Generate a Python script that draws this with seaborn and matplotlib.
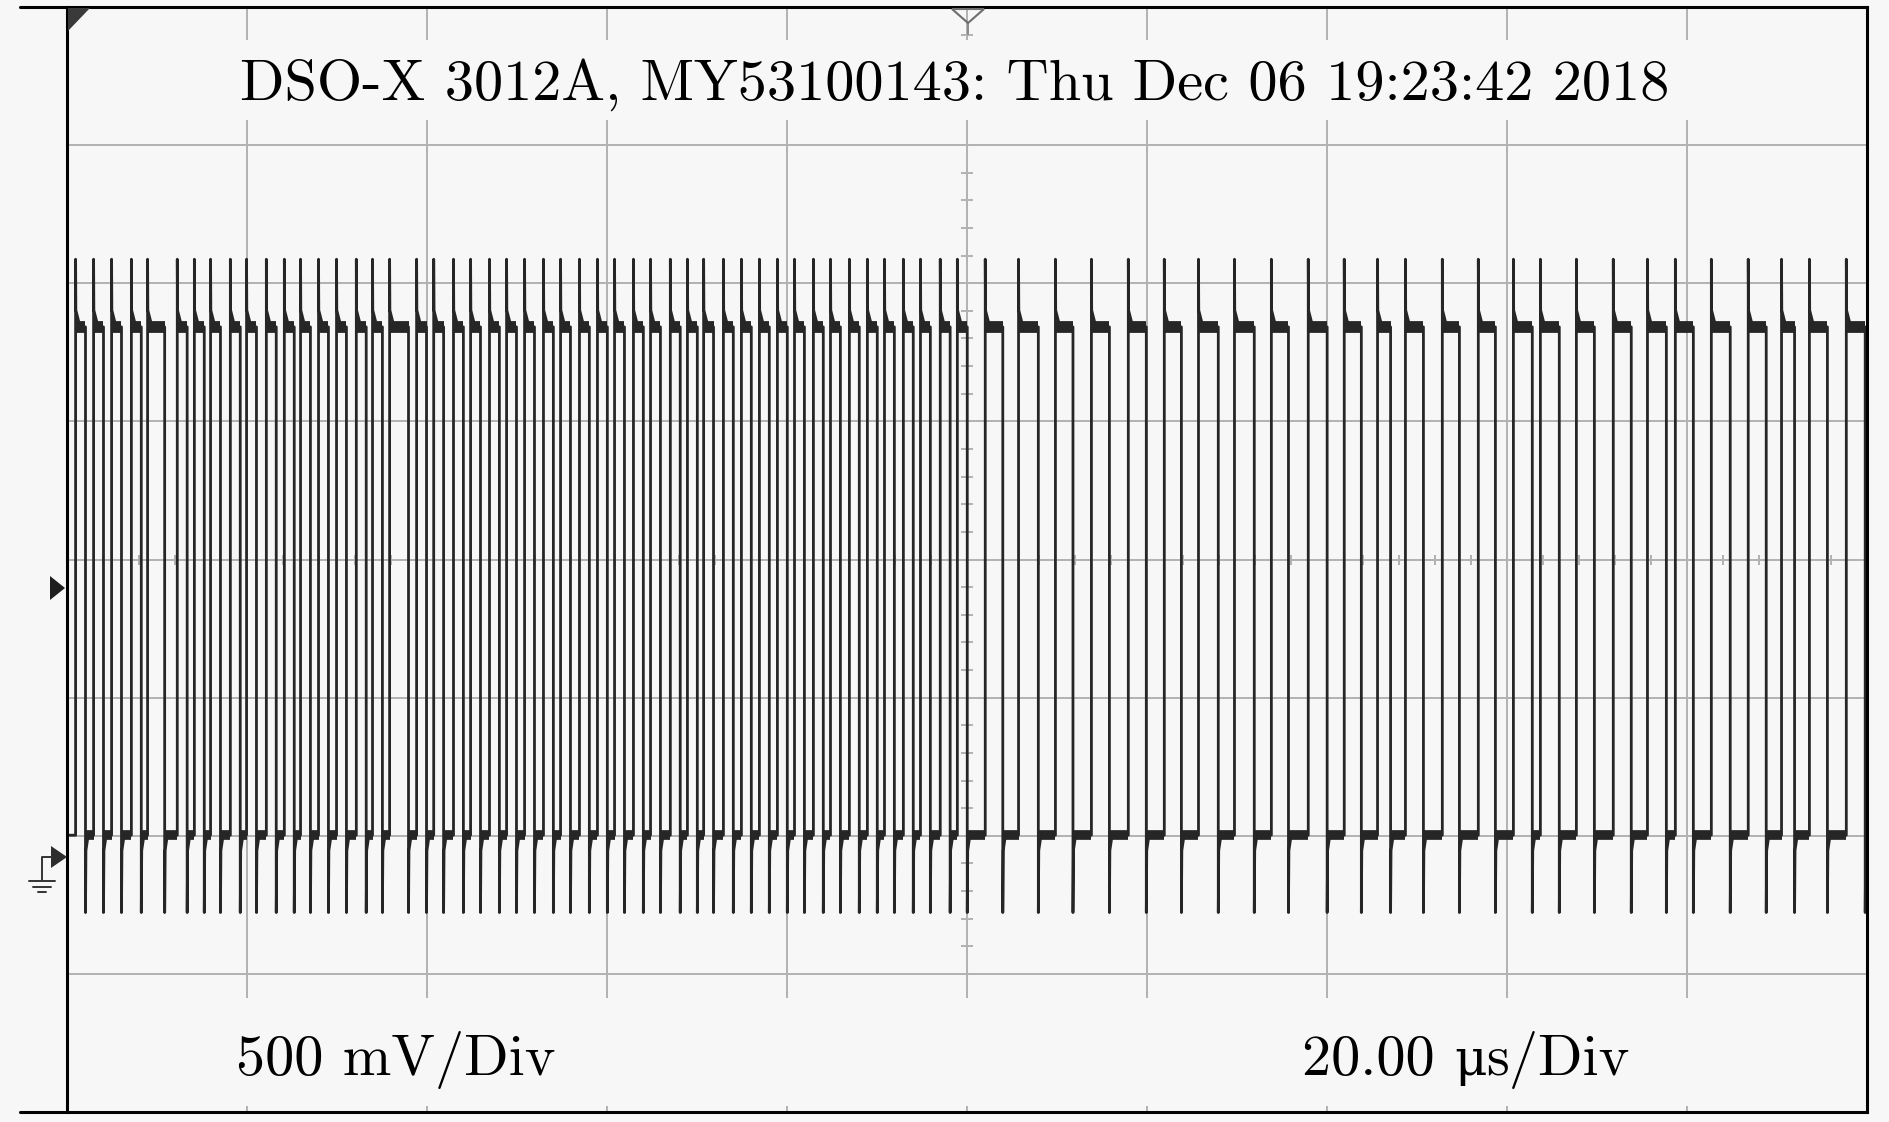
import numpy as np
import pandas as pd
import matplotlib
matplotlib.use("Agg")
import matplotlib.pyplot as plt
import seaborn as sns
from matplotlib.patches import Rectangle, Polygon
from matplotlib.lines import Line2D

# screen annotations
title = "DSO-X 3012A, MY53100143: Thu Dec 06 19:23:42 2018"
volt_label = "500 mV/Div"
time_value = "20.00 "
time_unit = "\u03bc"
time_rest = "s/Div"

# scope settings
volts_per_div = 0.5
us_per_div = 20.0
offset_v = 1.078      # voltage at screen centre

# trace levels (V)
v_high = 1.92
v_low = 0.08
v_over = 2.165
v_under = -0.20
v_shoulder = 1.98
v_tail = 0.025

# rising edges (us)
rise_us = [-99.1, -97.1, -95.1, -92.9, -91.1, -87.8, -85.9, -84.1, -81.9, -80.1,
           -77.9, -75.9, -74.1, -72.1, -70.1, -67.9, -66.1, -64.2, -61.2, -59.3,
           -57.1, -55.2, -53.1, -51.2, -49.2, -47.1, -45.2, -43.1, -41.1, -39.2,
           -37.1, -35.2, -33.0, -31.1, -29.3, -27.1, -25.1, -23.1, -21.1, -19.2,
           -17.1, -15.2, -13.1, -11.1, -9.2, -7.1, -5.2, -3.0, -1.1,
           2.0, 5.7, 9.8, 13.8, 17.9, 21.9, 25.7, 29.7, 33.8, 37.9,
           41.9, 45.6, 48.7, 52.8, 56.8, 60.7, 63.7, 67.7, 71.8, 75.6,
           78.7, 82.7, 86.8, 90.5, 93.6, 97.7]

# time spent high after each rising edge (us)
high_us = [1.1, 1.1, 1.1, 1.1, 1.9, 1.1, 1.1, 1.1, 1.1, 1.1,
           1.1, 1.1, 1.1, 1.1, 1.1, 1.1, 1.1, 2.1, 1.1, 1.1,
           1.1, 1.1, 1.1, 1.1, 1.1, 1.1, 1.1, 1.1, 1.1, 1.1,
           1.1, 1.1, 1.1, 1.1, 1.1, 1.1, 1.1, 1.1, 1.1, 1.1,
           1.1, 1.1, 1.1, 1.1, 1.1, 1.1, 1.1, 1.1, 1.1,
           1.95, 2.2, 1.95, 2.0, 2.0, 1.9, 2.2, 2.2, 1.9, 2.1,
           1.9, 1.45, 2.0, 1.9, 1.9, 2.1, 2.1, 2.0, 2.0, 2.1,
           2.0, 2.1, 2.0, 1.45, 2.0, 2.1]

bg = "#f7f7f7"
ink = "#262626"
grid_col = "#b2b2b2"

t0, t1 = -5 * us_per_div, 5 * us_per_div
y0, y1 = offset_v - 4 * volts_per_div, offset_v + 4 * volts_per_div

# build the trace table
rise = np.array(rise_us)
fall = rise + np.array(high_us)
rows = [(t0, v_low)]
for r, f in zip(rise, fall):
    rows += [(r, v_low), (r, v_over), (r + 0.03, v_shoulder), (r + 0.5, v_high),
             (f, v_high), (f, v_under), (f + 0.05, v_tail), (f + 0.3, v_low)]
rows.append((t1, v_low))
trace = pd.DataFrame(rows, columns=["t_us", "volts"])
trace = trace[trace["t_us"] <= t1]

next_rise = np.append(rise[1:], t1)

sns.set_style("white")
plt.rcParams["font.family"] = ["cmr10", "DejaVu Serif"]
plt.rcParams["axes.unicode_minus"] = False

W, H = 1890, 1122
fig = plt.figure(figsize=(W / 100, H / 100), dpi=100, facecolor=bg)
ax_l, ax_r, ax_t, ax_b = 67.5, 1867, 7, 1112
ax = fig.add_axes([ax_l / W, 1 - ax_b / H, (ax_r - ax_l) / W, (ax_b - ax_t) / H])
ax.set_facecolor(bg)
ax.set_xlim(t0, t1)
ax.set_ylim(y0, y1)

# graticule
xg = np.arange(t0 + us_per_div, t1, us_per_div)
yg = np.arange(y0 + volts_per_div, y1 - 1e-6, volts_per_div)
ax.vlines(xg, y0, y1, color=grid_col, lw=1.4, zorder=1)
ax.hlines(yg, t0, t1, color=grid_col, lw=1.4, zorder=1)
ax.plot(np.zeros(41), np.linspace(y0, y1, 41), ls="none", marker="_",
        ms=8, mew=1.4, color=grid_col, zorder=1)
ax.plot(np.linspace(t0, t1, 51), np.full(51, offset_v), ls="none", marker="|",
        ms=7, mew=1.4, color=grid_col, zorder=1)

# text bands hide the graticule
for yb0, yb1 in [(40, 120), (998, 1106)]:
    ax.add_patch(Rectangle((0, 1 - (yb1 - ax_t) / (ax_b - ax_t)), 1,
                           (yb1 - yb0) / (ax_b - ax_t), transform=ax.transAxes,
                           fc=bg, ec="none", zorder=1.5))

# ringing blocks after each edge
ax.hlines(np.full(len(rise), v_high), rise, fall, color=ink, lw=8.5,
          capstyle="butt", zorder=2.5)
ax.hlines(np.full(len(rise), v_low), fall, next_rise, color=ink, lw=7,
          capstyle="butt", zorder=2.5)

sns.lineplot(data=trace, x="t_us", y="volts", sort=False, estimator=None,
             color=ink, lw=2.0, ax=ax, zorder=3)

ax.set_xlabel("")
ax.set_ylabel("")
ax.set_xticks([])
ax.set_yticks([])
for s in ax.spines.values():
    s.set_color("black")
    s.set_linewidth(2.2)
    s.set_zorder(5)

def fx(x):
    return x / W

def fy(y):
    return 1 - y / H

# border extensions on the left
for yy in (ax_t, ax_b):
    fig.add_artist(Line2D([fx(20), fx(ax_l)], [fy(yy), fy(yy)], color="black",
                          lw=2.2, transform=fig.transFigure))

# screen markers
fig.add_artist(Polygon([(fx(68), fy(8)), (fx(90), fy(8)), (fx(68), fy(31))],
                       closed=True, fc="#3a3a3a", ec="none", transform=fig.transFigure, zorder=6))
fig.add_artist(Polygon([(fx(952), fy(9)), (fx(984), fy(9)), (fx(968), fy(23))],
                       closed=True, fc="none", ec="#6e6e6e", lw=1.5, transform=fig.transFigure, zorder=6))
fig.add_artist(Line2D([fx(968), fx(968)], [fy(23), fy(34)], color="#8a8a8a", lw=1.4,
                      transform=fig.transFigure))
fig.add_artist(Polygon([(fx(50), fy(576)), (fx(65), fy(588)), (fx(50), fy(600))],
                       closed=True, fc="#1e1e1e", ec="none", transform=fig.transFigure))
fig.add_artist(Polygon([(fx(51), fy(846)), (fx(67), fy(857)), (fx(51), fy(868))],
                       closed=True, fc="#2e2e2e", ec="none", transform=fig.transFigure))
fig.add_artist(Line2D([fx(52), fx(42), fx(42)], [fy(857), fy(857), fy(880)],
                      color="#333333", lw=1.4, transform=fig.transFigure))
for yy, xa, xb in [(881, 29, 55), (887, 33, 51), (892, 38, 46)]:
    fig.add_artist(Line2D([fx(xa), fx(xb)], [fy(yy), fy(yy)], color="#333333",
                          lw=1.4, transform=fig.transFigure))

# annotations
fs = 42
base_top = 1 - (100 - ax_t) / (ax_b - ax_t)
base_bot = 1 - (1075 - ax_t) / (ax_b - ax_t)
ax.text((955 - ax_l) / (ax_r - ax_l), base_top, title,
        transform=ax.transAxes, ha="center", va="baseline", fontsize=fs, color="black", zorder=6)
ax.text((236 - ax_l) / (ax_r - ax_l), base_bot, volt_label,
        transform=ax.transAxes, ha="left", va="baseline", fontsize=fs, color="black", zorder=6)

# time base label: the micro sign comes from DejaVu Serif
fig.canvas.draw()
renderer = fig.canvas.get_renderer()
inv = ax.transAxes.inverted()
x_cur = (1302 - ax_l) / (ax_r - ax_l)
for part, fam in [(time_value, ["cmr10"]), (time_unit, ["DejaVu Serif"]), (time_rest, ["cmr10"])]:
    fsz = fs * 0.86 if fam == ["DejaVu Serif"] else fs
    t = ax.text(x_cur, base_bot, part, transform=ax.transAxes, ha="left", va="baseline",
                fontsize=fsz, family=fam, color="black", zorder=6)
    bb = t.get_window_extent(renderer)
    x_cur = inv.transform((bb.x1, bb.y0))[0]

fig.savefig("out.png", dpi=100, facecolor=bg)
